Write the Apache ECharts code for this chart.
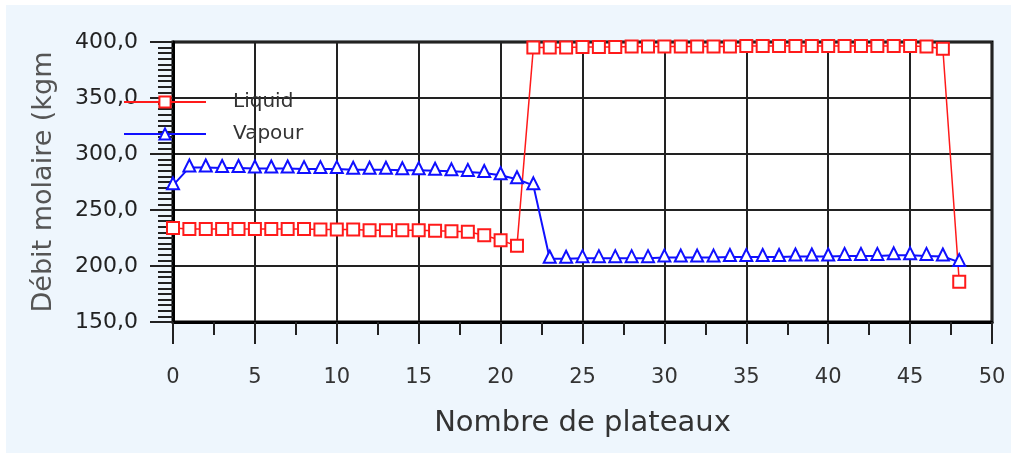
<!DOCTYPE html>
<html>
<head>
<meta charset="utf-8">
<script src="https://cdn.jsdelivr.net/npm/echarts@6/dist/echarts.min.js"></script>
<style>
html,body{margin:0;padding:0;background:#fff;}
#bg{position:absolute;left:6px;top:5px;width:1005px;height:448px;background:#eef6fd;}
#chart{position:absolute;left:0;top:0;width:1017px;height:459px;}
</style>
</head>
<body>
<div id="bg"></div>
<div id="chart"></div>
<script>
const plates = [];
for (let i = 0; i <= 48; i++) plates.push(i);

const liquid = [234, 233, 233, 233, 233, 233, 233, 233, 233, 232.5,
  232.5, 232.5, 232, 232, 232, 232, 231.5, 231, 230.5, 227.5,
  223, 218, 395, 395, 395, 395.5, 395.5, 395.5, 396, 396,
  396, 396, 396, 396, 396, 396.5, 396.5, 396.5, 396.5, 396.5,
  396.5, 396.5, 396.5, 396.5, 396.5, 396.5, 396, 394, 186];

const vapour = [272, 288, 288, 287.5, 287.5, 287, 287, 287, 286.5, 286.5,
  286.5, 286, 286, 286, 285.5, 285.5, 285, 284.5, 284, 283,
  281, 277.5, 272, 206.5, 206.5, 207, 207, 207, 207, 207,
  207.5, 207.5, 207.5, 207.5, 208, 208, 208, 208, 208.5, 208.5,
  208.5, 209, 209, 209, 209.5, 209.5, 209, 208.5, 203.5];

const seriesNames = ['Liquid', 'Vapour'];
const xAxisName = 'Nombre de plateaux';
const yAxisName = 'Débit molaire (kgmole/h)';

const chart = echarts.init(document.getElementById('chart'), null, {renderer: 'canvas'});
const font = 'DejaVu Sans';
chart.setOption({
  animation: false,
  backgroundColor: 'transparent',
  grid: {
    left: 173, right: 25, top: 42, bottom: 137,
    show: true, backgroundColor: '#fff', borderColor: '#000', borderWidth: 3
  },
  legend: {
    orient: 'vertical', left: 118, top: 87,
    itemWidth: 82, itemHeight: 14, itemGap: 12,
    textStyle: {fontFamily: font, fontSize: 20, color: '#333', padding: [0, 0, 0, 22], lineHeight: 20},
    data: seriesNames
  },
  xAxis: {
    type: 'value', min: 0, max: 50, interval: 5,
    name: xAxisName, nameLocation: 'middle', nameGap: 87,
    nameTextStyle: {fontFamily: font, fontSize: 29, color: '#333'},
    axisLine: {show: true, onZero: false, lineStyle: {color: '#000', width: 3}},
    axisTick: {show: true, length: 22, lineStyle: {color: '#222', width: 2}},
    minorTick: {show: true, splitNumber: 2, length: 13, lineStyle: {color: '#222', width: 2}},
    axisLabel: {margin: 45, fontFamily: font, fontSize: 21, color: '#333'},
    splitLine: {show: true, lineStyle: {color: '#222', width: 2}}
  },
  yAxis: {
    type: 'value', min: 150, max: 400, interval: 50,
    name: yAxisName, nameLocation: 'middle', nameGap: 116,
    nameTruncate: {maxWidth: 272, ellipsis: '\u200b'},
    nameTextStyle: {fontFamily: font, fontSize: 27, color: '#555'},
    axisLine: {show: true, onZero: false, lineStyle: {color: '#000', width: 3}},
    axisTick: {show: true, length: 23, lineStyle: {color: '#222', width: 2}},
    minorTick: {show: true, splitNumber: 10, length: 15, lineStyle: {color: '#222', width: 2}},
    axisLabel: {margin: 35, fontFamily: font, fontSize: 22, color: '#222',
      formatter: v => v.toFixed(1).replace('.', ',')},
    splitLine: {show: true, lineStyle: {color: '#222', width: 2}}
  },
  series: [
    {
      name: seriesNames[0], type: 'line',
      data: plates.map((p, i) => [p, liquid[i]]),
      color: '#ff1a1a',
      symbol: 'emptyRect', symbolSize: 12,
      lineStyle: {width: 1.5, color: '#ff1a1a'},
      itemStyle: {color: '#ff1a1a', borderWidth: 1.5},
      z: 3
    },
    {
      name: seriesNames[1], type: 'line',
      data: plates.map((p, i) => [p, vapour[i]]),
      color: '#1010ff',
      symbol: 'emptyTriangle', symbolSize: 12, symbolOffset: [0, -2],
      lineStyle: {width: 2, color: '#1010ff'},
      itemStyle: {color: '#1010ff', borderWidth: 1.5},
      z: 3
    }
  ]
});
</script>
</body>
</html>
